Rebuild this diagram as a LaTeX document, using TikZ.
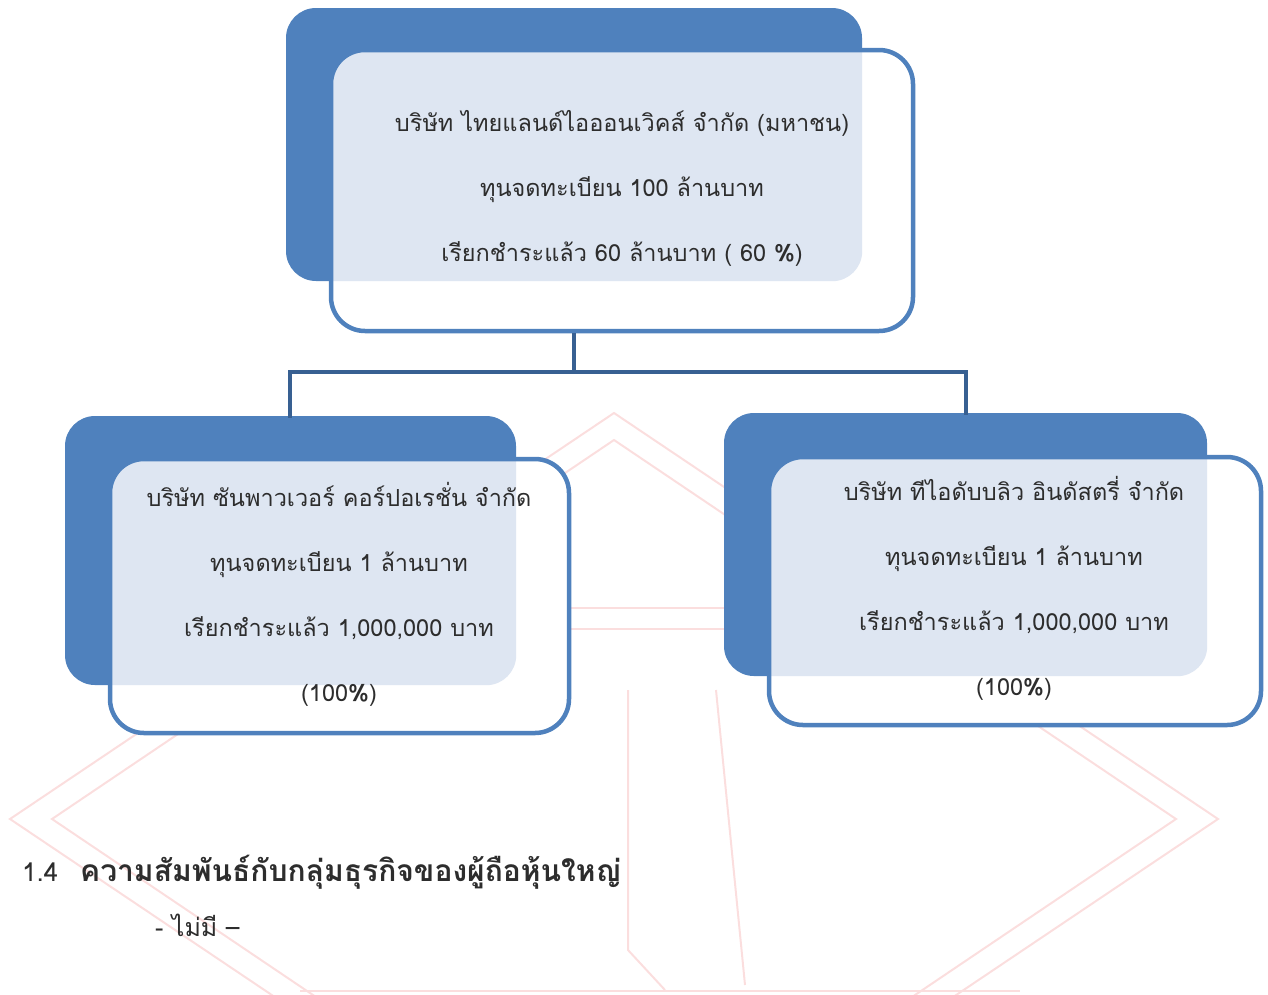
\documentclass[tikz,border=0pt]{standalone}
\usepackage{fontspec}
\newfontfamily\thai[Script=Thai]{Loma}
\definecolor{bkblue}{RGB}{79,129,189}
\definecolor{connblue}{RGB}{56,96,146}
\definecolor{tintblue}{RGB}{222,230,242}
\definecolor{txtgray}{RGB}{45,45,45}
\definecolor{wmpink}{RGB}{251,222,222}
\tikzset{
  backbox/.style={fill=bkblue, draw=none, rounded corners=30pt},
  frontbox/.style={fill=white, draw=bkblue, line width=4.5pt, rounded corners=34pt},
  boxtext/.style={font=\thai\fontsize{23.5}{65}\selectfont, text=txtgray, align=center, inner sep=0pt},
  conn/.style={draw=connblue, line width=4.5pt},
  wm/.style={draw=wmpink, line width=2pt}
}
\begin{document}
\begin{tikzpicture}[x=1pt,y=-1pt]
\useasboundingbox (0,0) rectangle (1268,994);
% faint watermark
\draw[wm] (10,819) -- (614,413) -- (1218,819) -- (614,1225) -- cycle;
\draw[wm] (52,819) -- (614,440) -- (1176,819) -- (614,1198) -- cycle;
\draw[wm] (515,608) -- (730,608);
\draw[wm] (515,629) -- (730,629);
\draw[wm] (628,690) -- (628,950) -- (665,990);
\draw[wm] (716,690) -- (745,985);
\draw[wm] (300,991) -- (1020,991);
% back boxes
\node[backbox, inner sep=0pt, minimum width=576pt, minimum height=273pt] (bt) at (574,144.5) {};
\node[backbox, inner sep=0pt, minimum width=451pt, minimum height=269pt] (bl) at (290.5,550.5) {};
\node[backbox, inner sep=0pt, minimum width=483pt, minimum height=263pt] (br) at (965.5,544.5) {};
% front boxes
\node[frontbox, minimum width=582pt, minimum height=281pt,
  path picture={\fill[tintblue, rounded corners=30pt] (bt.north west) rectangle (bt.south east);}]
  (top) at (622,190.5) {};
\node[frontbox, minimum width=459pt, minimum height=274pt,
  path picture={\fill[tintblue, rounded corners=30pt] (bl.north west) rectangle (bl.south east);}]
  (left) at (339.5,596) {};
\node[frontbox, minimum width=492pt, minimum height=268pt,
  path picture={\fill[tintblue, rounded corners=30pt] (br.north west) rectangle (br.south east);}]
  (right) at (1015,591) {};
% texts
\node[boxtext] (toptxt) at (622,188) {บริษัท ไทยแลนด์ไอออนเวิคส์ จำกัด (มหาชน)\\ทุนจดทะเบียน 100 ล้านบาท\\เรียกชำระแล้ว 60 ล้านบาท ( 60 {\bfseries\%})};
\node[boxtext] (lefttxt) at (339,594) {บริษัท ซันพาวเวอร์ คอร์ปอเรชั่น จำกัด\\ทุนจดทะเบียน 1 ล้านบาท\\เรียกชำระแล้ว 1,000,000 บาท\\(100{\bfseries\%})};
\node[boxtext] (righttxt) at (1014,588) {บริษัท ทีไอดับบลิว อินดัสตรี่ จำกัด\\ทุนจดทะเบียน 1 ล้านบาท\\เรียกชำระแล้ว 1,000,000 บาท\\(100{\bfseries\%})};
% connectors
\coordinate (hub) at (574,372);
\draw[conn] (top.south -| hub) -- (hub);
\draw[conn, line cap=rect] (bl.north -| 290,0) |- (hub) -| (br.north -| 966,0);
% heading
\node[anchor=base west, font=\thai\fontsize{26}{30}\selectfont, text=txtgray, inner sep=0pt] (num) at (22,881) {1.4};
\node[anchor=base west, font=\thai\bfseries\fontsize{30}{34}\selectfont, text=txtgray, inner sep=0pt] (head) at (80,881) {ความสัมพันธ์กับกลุ่มธุรกิจของผู้ถือหุ้นใหญ่};
\node[anchor=base west, font=\thai\fontsize{25}{28}\selectfont, text=txtgray, inner sep=0pt] (none) at (155,936) {- ไม่มี –};
\end{tikzpicture}
\end{document}
